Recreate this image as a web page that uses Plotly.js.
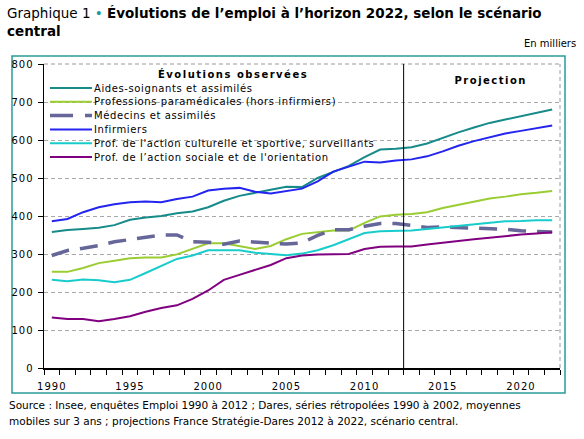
<!DOCTYPE html>
<html><head><meta charset="utf-8">
<script src="https://cdn.plot.ly/plotly-3.0.1.min.js"></script>
<style>
html,body{margin:0;padding:0;background:#fff}
#chart{width:584px;height:439px}
.xtick text,.ytick text{letter-spacing:1px}
</style></head><body><div id="chart"></div>
<script>
const years = [1990,1991,1992,1993,1994,1995,1996,1997,1998,1999,2000,2001,2002,2003,2004,2005,2006,2007,2008,2009,2010,2011,2012,2013,2014,2015,2016,2017,2018,2019,2020,2021,2022];
const aidesSoignants = [358,363,366,369,376,390,396,400,407,412,423,440,453,462,469,477,476,500,517,532,555,575,577,581,591,606,620,633,645,654,663,671,680];
const paramedicales = [253,253,263,276,282,289,291,291,299,313,328,328,321,313,321,339,353,357,362,362,382,399,403,405,410,421,430,438,446,451,457,461,466];
const medecins = [296,309,315,322,332,338,346,350,350,332,331,326,334,331,327,326,329,349,364,364,373,380,380,375,370,371,370,368,367,365,361,360,358];
const infirmiers = [386,392,410,423,431,436,438,436,445,451,467,472,474,464,459,465,472,491,517,530,543,541,546,549,557,570,585,597,607,617,624,631,638];
const culturelle = [232,228,233,231,226,232,250,269,287,296,310,310,310,303,300,297,301,310,323,339,355,360,361,362,366,370,375,379,383,386,387,389,389];
const sociale = [133,129,129,123,129,136,148,158,165,182,204,232,245,258,271,289,296,299,300,300,313,319,320,320,325,329,334,339,343,348,351,354,357];
const seriesNames = ["Aides-soignants et assimilés","Professions paramédicales (hors infirmiers)","Médecins et assimilés","Infirmiers","Prof. de l'action culturelle et sportive, surveillants","Prof. de l’action sociale et de l'orientation"];
const xTickLabels = [1990,1995,2000,2005,2010,2015,2020];
const yTicks = [0,100,200,300,400,500,600,700,800];
const projectionStart = 2012.5;

const seriesValues = [aidesSoignants, paramedicales, medecins, infirmiers, culturelle, sociale];
const styles = [
  {color:'#178a8a', width:2, dash:'solid'},
  {color:'#9acd32', width:2, dash:'solid'},
  {color:'#666699', width:3.5, dash:'18px,11px'},
  {color:'#2424f0', width:2, dash:'solid'},
  {color:'#18cccc', width:2, dash:'solid'},
  {color:'#800080', width:2, dash:'solid'}
];

const L=44, R=560, T=64, B=368;
const px = v => (v-L)/(R-L);
const py = v => (B-v)/(B-T);

const traces = seriesValues.map((vals,i)=>({
  x: years, y: vals, type:'scatter', mode:'lines', name: seriesNames[i],
  line: {color: styles[i].color, width: styles[i].width, dash: styles[i].dash},
  showlegend:false, hoverinfo:'skip'
}));

const shapes = [
  {type:'rect', xref:'paper', yref:'paper', x0:px(12), x1:px(565), y0:py(393), y1:py(56), line:{color:'#2a9a9a', width:1.5}, fillcolor:'rgba(0,0,0,0)', layer:'below'},
  {type:'line', xref:'paper', yref:'paper', x0:1, x1:1, y0:0, y1:1, line:{color:'#9a9a9a', width:1, dash:'4px,3px'}},
  {type:'line', xref:'paper', yref:'paper', x0:0, x1:1, y0:1, y1:1, line:{color:'#9a9a9a', width:1, dash:'4px,3px'}},
  {type:'line', xref:'x', yref:'paper', x0:projectionStart, x1:projectionStart, y0:0, y1:1, line:{color:'#000', width:1}}
];
const annotations = [
  {xref:'paper', yref:'paper', x:px(7), y:py(405), xanchor:'left', yanchor:'middle', showarrow:false, align:'left',
   text:'Source : Insee, enquêtes Emploi 1990 à 2012 ; Dares, séries rétropolées 1990 à 2002, moyennes', font:{family:'DejaVu Sans', size:10.5, color:'#000'}},
  {xref:'paper', yref:'paper', x:px(7), y:py(421), xanchor:'left', yanchor:'middle', showarrow:false, align:'left',
   text:'mobiles sur 3 ans ; projections France Stratégie-Dares 2012 à 2022, scénario central.', font:{family:'DejaVu Sans', size:10.5, color:'#000'}},
  {xref:'paper', yref:'paper', x:px(578), y:py(44), xanchor:'right', yanchor:'middle', showarrow:false,
   text:'En milliers', font:{family:'DejaVu Sans', size:10, color:'#000'}},
  {xref:'paper', yref:'paper', x:px(233), y:py(74), xanchor:'center', yanchor:'middle', showarrow:false,
   text:'<b>Évolutions observées</b>', font:{family:'DejaVu Sans', size:10, color:'#000'}},
  {xref:'paper', yref:'paper', x:px(490), y:py(80), xanchor:'center', yanchor:'middle', showarrow:false,
   text:'<b>Projection</b>', font:{family:'DejaVu Sans', size:10, color:'#000'}}
];
const firstLegendAnn = annotations.length;
seriesNames.forEach((n,k)=>{
  const yy = 88 + 13.8*k;
  shapes.push({type:'line', xref:'paper', yref:'paper', x0:px(50), x1:px(92), y0:py(yy), y1:py(yy),
    line:{color:styles[k].color, width:styles[k].width, dash: k===2 ? '23px,12px' : 'solid'}});
  annotations.push({xref:'paper', yref:'paper', x:px(92), y:py(yy), xanchor:'left', yanchor:'middle', showarrow:false, align:'left',
    text:n, font:{family:'DejaVu Sans', size:10, color:'#000'}});
});

const css = document.createElement('style');
let rules = '';
for (let i=3;i<annotations.length;i++) rules += `.annotation[data-index="${i}"] text{letter-spacing:${i<firstLegendAnn?1.5:0.6}px}\n`;
css.textContent = rules;
document.head.appendChild(css);

const layout = {
  width:584, height:439,
  margin:{l:L, r:584-R, t:T, b:439-B, pad:0},
  paper_bgcolor:'#fff', plot_bgcolor:'#fff',
  font:{family:'DejaVu Sans', size:10, color:'#000'},
  title:{
    text:"Graphique 1 <span style='color:#1a9a9a'>•</span> <b>Évolutions de l’emploi à l’horizon 2022, selon le scénario</b><br><b>central</b>",
    x:7/584, xanchor:'left', xref:'container', y:1-18/439, yanchor:'top', yref:'container',
    font:{family:'DejaVu Sans', size:13.5, color:'#000'}
  },
  xaxis:{
    range:[1989.5,2022.5], tickvals:xTickLabels, ticktext:xTickLabels.map(String), ticks:'',
    showgrid:false, zeroline:false, showline:true, linecolor:'#000', linewidth:1.5,
    tickfont:{family:'DejaVu Sans', size:10, color:'#000'}, ticklabelstandoff:8,
    minor:{tick0:1989.5, dtick:1, ticks:'outside', ticklen:5, tickcolor:'#000', tickwidth:1, showgrid:false},
    fixedrange:true
  },
  yaxis:{
    range:[0,800], tickvals:yTicks, ticks:'outside', ticklen:5, tickcolor:'#000', tickwidth:1,
    showgrid:true, gridcolor:'#a8a8a8', gridwidth:1, griddash:'4px,3px',
    zeroline:false, showline:true, linecolor:'#000', linewidth:1.5,
    tickfont:{family:'DejaVu Sans', size:10, color:'#000'}, ticklabelstandoff:2,
    fixedrange:true
  },
  shapes, annotations, showlegend:false
};
Plotly.newPlot('chart', traces, layout, {displayModeBar:false, staticPlot:true});
</script></body></html>
